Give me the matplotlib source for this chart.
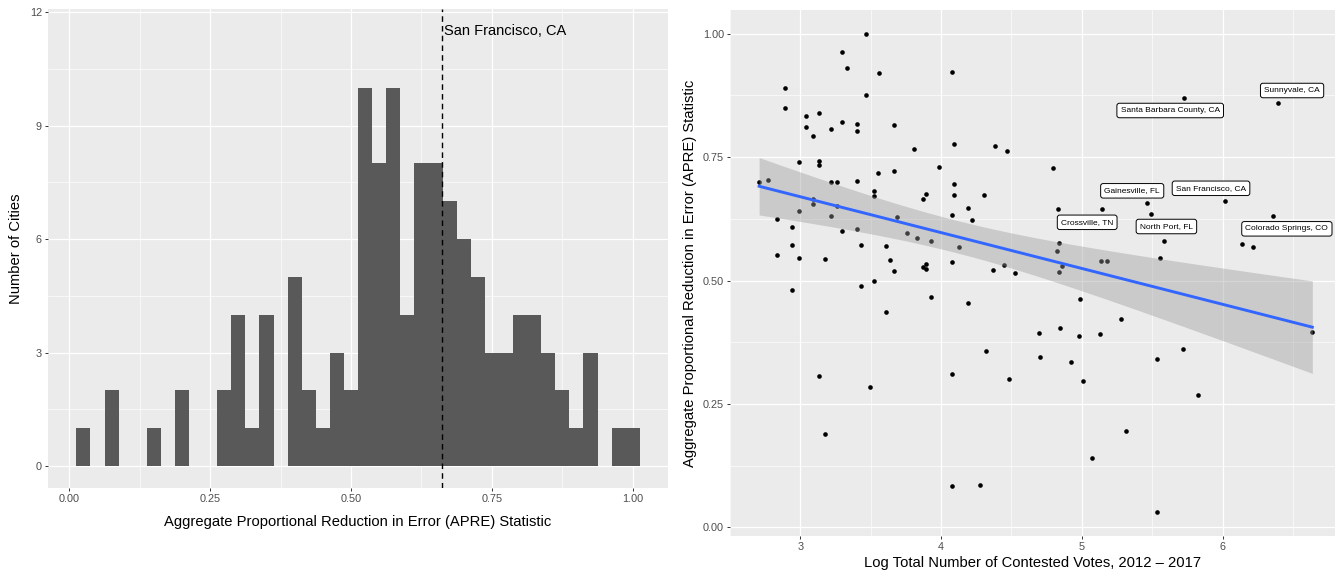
import numpy as np
import matplotlib
matplotlib.use("Agg")
import matplotlib.pyplot as plt

plt.rcParams['font.family'] = ['Liberation Sans', 'DejaVu Sans']

# histogram of APRE (binwidth 0.025, first bin starts at 0.0125)
bin_start = 0.0125
bin_width = 0.025
city_counts = [1, 0, 2, 0, 0, 1, 0, 2, 0, 0,
               2, 4, 1, 4, 0, 5, 2, 1, 3, 2,
               10, 8, 10, 4, 8, 8, 7, 6, 5, 3,
               3, 4, 4, 3, 2, 1, 3, 0, 1, 1]
sf_apre = 0.6615

# scatter: log total contested votes vs APRE
log_votes = [3.463, 3.296, 3.331, 3.556, 2.889, 3.463, 2.889, 3.135, 3.043, 3.296,
             3.400, 3.662, 3.043, 3.217, 3.400, 3.090, 3.806, 2.993, 3.135, 3.135,
             3.662, 3.553, 2.707, 2.773, 3.217, 3.258, 3.400, 3.525, 3.525, 3.891,
             3.870, 3.090, 3.090, 3.258, 2.993, 3.217, 3.688, 2.832, 2.943, 3.400,
             3.296, 3.761, 3.830, 3.929, 2.943, 3.433, 3.610, 2.832, 2.993, 3.177,
             3.636, 3.891, 3.870, 3.891, 3.662, 3.525, 3.433, 2.943, 3.929, 3.610,
             3.135, 3.496, 3.177, 4.078, 4.095, 4.383, 4.466, 3.988, 4.797, 4.095,
             4.095, 4.305, 4.189, 4.830, 5.142, 4.078, 4.220, 4.126, 4.837, 4.821,
             4.078, 5.137, 5.177, 4.445, 4.861, 4.369, 4.837, 4.528, 4.189, 4.984,
             5.279, 4.693, 4.844, 4.977, 5.126, 4.317, 4.702, 4.920, 4.078, 4.485,
             5.005, 5.315, 5.071, 4.078, 4.277, 5.728, 6.395, 5.461, 6.017, 5.494,
             6.355, 5.584, 6.135, 6.218, 5.556, 6.638, 5.721, 5.535, 5.823, 5.531]
apre = [1.000, 0.963, 0.930, 0.921, 0.889, 0.875, 0.849, 0.839, 0.833, 0.821,
        0.818, 0.816, 0.810, 0.807, 0.803, 0.793, 0.766, 0.740, 0.742, 0.735,
        0.722, 0.717, 0.699, 0.704, 0.699, 0.699, 0.702, 0.681, 0.672, 0.676,
        0.666, 0.666, 0.655, 0.651, 0.640, 0.631, 0.629, 0.625, 0.608, 0.604,
        0.600, 0.596, 0.586, 0.581, 0.572, 0.571, 0.569, 0.552, 0.545, 0.543,
        0.542, 0.534, 0.527, 0.523, 0.519, 0.500, 0.488, 0.480, 0.466, 0.436,
        0.307, 0.285, 0.189, 0.922, 0.776, 0.772, 0.762, 0.729, 0.727, 0.696,
        0.674, 0.674, 0.647, 0.645, 0.644, 0.632, 0.622, 0.568, 0.575, 0.559,
        0.537, 0.539, 0.539, 0.531, 0.529, 0.521, 0.518, 0.516, 0.454, 0.4625,
        0.421, 0.394, 0.403, 0.387, 0.392, 0.357, 0.345, 0.334, 0.310, 0.301,
        0.297, 0.196, 0.140, 0.084, 0.085, 0.869, 0.860, 0.656, 0.661, 0.635,
        0.631, 0.581, 0.573, 0.567, 0.545, 0.396, 0.3605, 0.341, 0.268, 0.032]

label_names = ["Santa Barbara County, CA", "Sunnyvale, CA", "Gainesville, FL",
               "San Francisco, CA", "Crossville, TN", "North Port, FL",
               "Colorado Springs, CO"]
label_x = [5.628, 6.494, 5.358, 5.918, 5.038, 5.601, 6.457]
label_y = [0.8444, 0.8849, 0.6817, 0.6868, 0.6179, 0.6094, 0.6047]

PANEL = "#EBEBEB"
TICKC = "#4D4D4D"


def gg_axes(ax):
    ax.set_facecolor(PANEL)
    for s in ax.spines.values():
        s.set_visible(False)
    ax.grid(which="major", color="white", linewidth=0.9)
    ax.grid(which="minor", color="white", linewidth=0.45)
    ax.set_axisbelow(True)
    ax.tick_params(which="major", length=2.4, width=0.7, color="#333333",
                   labelsize=7.8, labelcolor=TICKC, pad=2)
    ax.tick_params(which="minor", length=0)


fig = plt.figure(figsize=(13.4, 5.74), dpi=100)

# ---- left: histogram
ax1 = fig.add_axes([48 / 1340, 86 / 574, 620 / 1340, 479 / 574])
gg_axes(ax1)
edges = bin_start + bin_width * np.arange(len(city_counts) + 1)
ax1.bar(edges[:-1], city_counts, width=bin_width, align="edge",
        color="#595959", linewidth=0)
ax1.axvline(sf_apre, color="black", linestyle=(0, (4, 3)), linewidth=1.0)
ax1.text(sf_apre + 0.003, 11.5, "San Francisco, CA", fontsize=10.5,
         ha="left", va="center")
ax1.set_xlim(-0.0378, 1.0626)
ax1.set_ylim(-0.58, 12.08)
ax1.set_xticks([0, 0.25, 0.5, 0.75, 1.0])
ax1.set_xticklabels(["0.00", "0.25", "0.50", "0.75", "1.00"])
ax1.set_xticks([0.125, 0.375, 0.625, 0.875], minor=True)
ax1.set_yticks([0, 3, 6, 9, 12])
ax1.set_yticks([1.5, 4.5, 7.5, 10.5], minor=True)
ax1.set_xlabel("Aggregate Proportional Reduction in Error (APRE) Statistic",
               fontsize=10.6, labelpad=8)
ax1.set_ylabel("Number of Cities", fontsize=10.6, labelpad=5)

# ---- right: scatter with linear fit
ax2 = fig.add_axes([730 / 1340, 38 / 574, 605 / 1340, 526 / 574])
gg_axes(ax2)
x = np.array(log_votes)
y = np.array(apre)
ax2.scatter(x, y, s=11, color="black", linewidths=0, zorder=2)

n = len(x)
b1, b0 = np.polyfit(x, y, 1)
resid = y - (b0 + b1 * x)
s_err = np.sqrt(np.sum(resid ** 2) / (n - 2))
xs = np.linspace(x.min(), x.max(), 80)
se = s_err * np.sqrt(1 / n + (xs - x.mean()) ** 2 / np.sum((x - x.mean()) ** 2))
fit = b0 + b1 * xs
ax2.fill_between(xs, fit - 1.98 * se, fit + 1.98 * se, color="#999999",
                 alpha=0.4, linewidth=0, zorder=3)
ax2.plot(xs, fit, color="#3366FF", linewidth=2.1, zorder=4)

for name, lx, ly in zip(label_names, label_x, label_y):
    ax2.text(lx, ly, name, fontsize=6.0, ha="center", va="center", zorder=5,
             bbox=dict(boxstyle="round,pad=0.45,rounding_size=0.3",
                       facecolor="white", edgecolor="black", linewidth=0.7))

ax2.set_xlim(2.5085, 6.799)
ax2.set_ylim(-0.0176, 1.048)
ax2.set_xticks([3, 4, 5, 6])
ax2.set_xticks([2.5, 3.5, 4.5, 5.5, 6.5], minor=True)
ax2.set_yticks([0, 0.25, 0.5, 0.75, 1.0])
ax2.set_yticklabels(["0.00", "0.25", "0.50", "0.75", "1.00"])
ax2.set_yticks([0.125, 0.375, 0.625, 0.875], minor=True)
ax2.set_xlabel("Log Total Number of Contested Votes, 2012 \u2013 2017",
               fontsize=10.6, labelpad=3)
ax2.set_ylabel("Aggregate Proportional Reduction in Error (APRE) Statistic",
               fontsize=10.6, labelpad=4)

fig.savefig("out.png", dpi=100, facecolor="white")
